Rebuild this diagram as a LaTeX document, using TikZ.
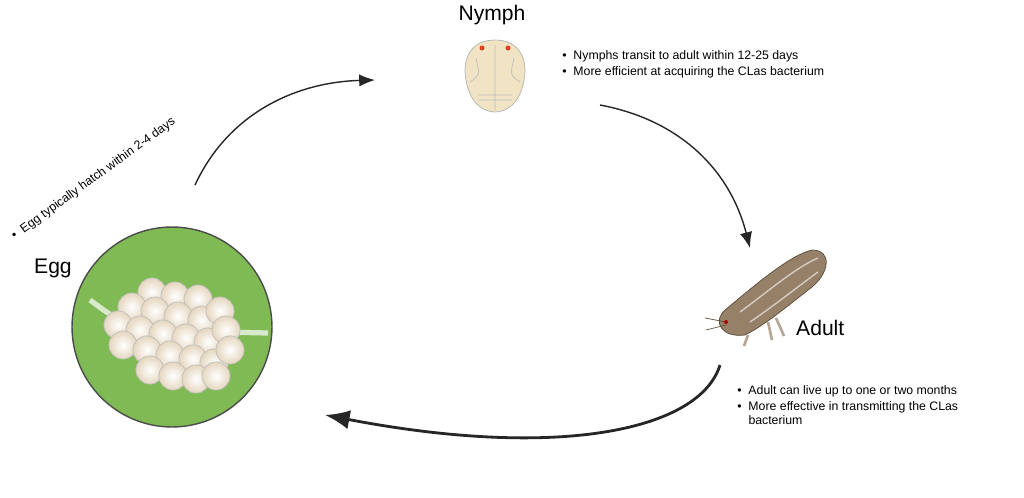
\documentclass[tikz,border=0pt]{standalone}
\usepackage{fontspec}
\setmainfont{Liberation Sans}
\usetikzlibrary{arrows.meta}
\definecolor{leaf}{RGB}{128,186,84}
\definecolor{eggc}{RGB}{236,230,214}
\definecolor{nymphc}{RGB}{240,228,196}
\definecolor{bug}{RGB}{150,128,104}
\tikzset{
  cycle/.style={-{Latex[length=9pt,width=7pt]}, thick, black!85},
  note/.style={font=\scriptsize, align=left, anchor=north west, inner sep=0pt},
  egg/.style={circle, draw=black!25, minimum size=16pt, inner sep=0pt, inner color=white, outer color=eggc!85!brown},
}
\begin{document}
\begin{tikzpicture}[x=0.02cm, y=-0.02cm]
\useasboundingbox (0,0) rectangle (1024,497);

% Egg
\node[circle, fill=leaf, draw=black!70, thick, minimum size=4cm] (eggdish) at (172,327) {};
\draw[white!70!leaf, line width=3pt] (90,300) .. controls (130,330) .. (268,333);
\foreach \x/\y in {152/292,175/296,198/299,132/307,155/311,178/316,202/320,220/311,
  118/325,140/330,163/334,186/338,208/342,226/330,123/345,147/350,170/355,193/359,
  214/363,230/350,150/370,173/376,196/379,216/376} {
  \node[egg] at (\x,\y) {};
}
\node[font=\large, anchor=west] (eggtxt) at (28,268) {Egg};
\node[font=\scriptsize, rotate=36, anchor=west] (eggnote) at (8,241) {\textbullet\ \ Egg typically hatch within 2-4 days};

% Nymph
\node[font=\large] (nymphtxt) at (492,15) {Nymph};
\draw[fill=nymphc, draw=black!30] (495,40) .. controls (470,40) and (462,60) .. (466,80)
  .. controls (470,105) and (485,112) .. (495,112) .. controls (505,112) and (520,105) .. (524,80)
  .. controls (528,60) and (520,40) .. (495,40) -- cycle;
\draw[black!25] (495,45) -- (495,110) (478,95) -- (512,95) (478,100) -- (512,100)
  (476,58) .. controls (480,75) .. (470,82) (514,58) .. controls (510,75) .. (520,82);
\fill[red!50!brown] (482,48) circle (2.5) (508,48) circle (2.5);
\coordinate (nymph) at (495,75);
\node[note] (nymphnote) at (562,50) {\textbullet\ \ Nymphs transit to adult within 12-25 days\\[1pt]\textbullet\ \ More efficient at acquiring the CLas bacterium};

% Adult
\draw[fill=bug, draw=bug!60!black] (725,310) .. controls (755,285) and (790,255) .. (812,250)
  .. controls (832,250) and (830,272) .. (812,287) .. controls (785,308) and (765,325) .. (745,335)
  .. controls (722,338) and (712,322) .. (725,310) -- cycle;
\draw[bug!40!white, thick] (740,312) .. controls (770,290) and (795,268) .. (818,258)
  (750,322) .. controls (775,305) and (800,285) .. (818,272);
\draw[bug!60!black] (726,322) -- (705,318) (726,325) -- (706,330);
\draw[bug!70!white, line width=1.5pt] (768,322) -- (772,340) (776,318) -- (784,336) (748,335) -- (744,346);
\fill[red!70!black] (726,322) circle (2);
\coordinate (adult) at (765,300);
\node[font=\large, anchor=west] (adulttxt) at (790,328) {Adult};
\node[note] (adultnote) at (737,385) {\textbullet\ \ Adult can live up to one or two months\\[1pt]\textbullet\ \ More effective in transmitting the CLas\\\phantom{\textbullet\ \ }bacterium};

% Cycle
\draw[cycle] (195,185) .. controls (230,110) and (300,82) .. (375,80);
\draw[cycle] (600,105) .. controls (680,120) and (730,170) .. (750,248);
\draw[cycle, line width=1.6pt, -{Latex[length=14pt,width=11pt]}] (720,365) .. controls (700,430) and (560,460) .. (325,415);
\end{tikzpicture}
\end{document}
